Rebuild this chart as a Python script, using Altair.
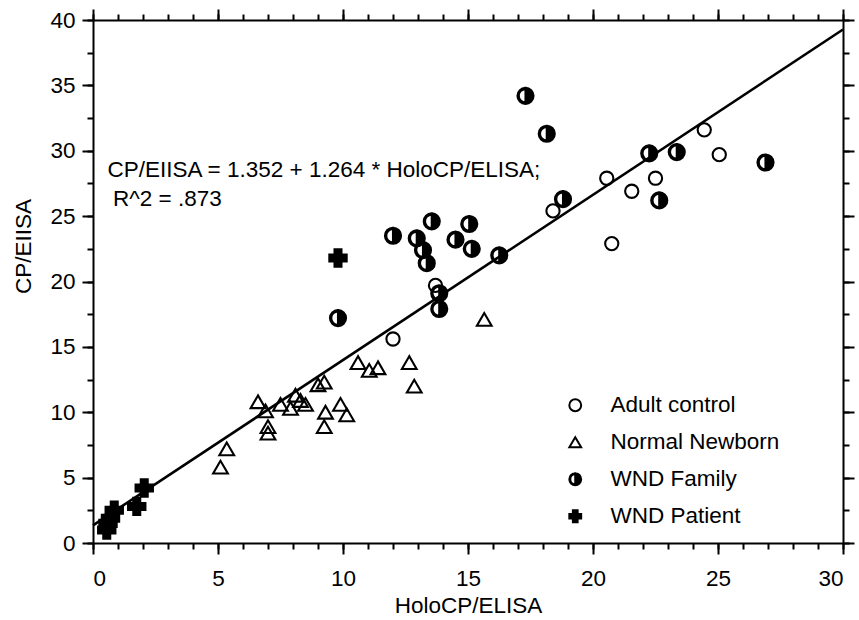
import altair as alt
import pandas as pd

FONT = "Liberation Sans"
FS = 22.5

groups = ["Adult control", "Normal Newborn", "WND Family", "WND Patient"]
size_keys = ["s1", "s2", "s3", "s4"]

adult_x = [12.0, 13.7, 18.4, 20.55, 21.55, 20.75, 22.5, 24.45, 25.05]
adult_y = [15.6, 19.7, 25.4, 27.9, 26.9, 22.9, 27.9, 31.6, 29.7]

newborn_x = [5.1, 5.35, 6.6, 6.9, 7.0, 7.0, 7.5, 7.9, 8.1, 8.3, 8.5, 9.0, 9.25,
             9.3, 9.25, 9.9, 10.15, 10.6, 11.05, 11.4, 12.65, 12.85, 15.65]
newborn_y = [5.8, 7.2, 10.8, 10.1, 8.9, 8.4, 10.6, 10.3, 11.3, 10.9, 10.6, 12.1, 12.3,
             10.0, 8.9, 10.6, 9.8, 13.8, 13.2, 13.4, 13.8, 12.0, 17.1]

family_x = [9.8, 12.0, 12.95, 13.2, 13.35, 13.55, 14.5, 15.05, 15.15, 16.25,
            13.85, 13.85, 17.3, 18.15, 18.8, 22.25, 22.65, 23.35, 26.9]
family_y = [17.2, 23.5, 23.3, 22.4, 21.4, 24.6, 23.2, 24.4, 22.5, 22.0,
            19.1, 17.9, 34.2, 31.3, 26.3, 29.8, 26.2, 29.9, 29.1]

patient_x = [0.55, 0.6, 0.7, 0.85, 1.75, 2.05, 9.8]
patient_y = [1.0, 1.5, 1.9, 2.5, 2.8, 4.2, 21.8]

fit_x = [0, 30]
fit_y = [1.352, 39.272]

ann_text = ["CP/EIISA = 1.352 + 1.264 * HoloCP/ELISA;", "R^2 = .873"]
ann_x = [0.58, 0.8]
ann_y = [28.5, 26.3]

x_major = [0, 5, 10, 15, 20, 25, 30]
x_minor = list(range(0, 31))
y_major = [0, 5, 10, 15, 20, 25, 30, 35, 40]
y_minor = [i * 2.5 for i in range(17)]

HALF = ("M0,-1A1,1,0,0,1,0,1Z"
        "M0,1A1,1,0,0,1,0,-1L0,-0.84A0.84,0.84,0,0,0,0,0.84Z")

rows = []
for i, (g, xs_, ys_) in enumerate([(groups[0], adult_x, adult_y), (groups[1], newborn_x, newborn_y),
                                   (groups[2], family_x, family_y), (groups[3], patient_x, patient_y)]):
    for a, b in zip(xs_, ys_):
        rows.append({"x": a, "y": b, "group": g, "sz": size_keys[i]})
pts = pd.DataFrame(rows)
fit_df = pd.DataFrame({"x": fit_x, "y": fit_y})
ann_df = pd.DataFrame({"x": ann_x, "y": ann_y, "t": ann_text})

xs = alt.Scale(domain=[0, 30], nice=False, zero=False)
ys = alt.Scale(domain=[0, 40], nice=False, zero=False)

common = dict(domainColor="black", tickColor="black", tickWidth=2, domainWidth=2,
              grid=False, labelFont=FONT, labelFontSize=FS, labelColor="black",
              titleFont=FONT, titleFontSize=FS, titleColor="black", titleFontWeight="normal")


def axis_layer(xaxis, yaxis):
    return alt.Chart(fit_df).mark_point(opacity=0).encode(
        x=alt.X("x:Q", scale=xs, axis=xaxis),
        y=alt.Y("y:Q", scale=ys, axis=yaxis),
    )


l1 = axis_layer(
    alt.Axis(orient="bottom", values=x_major, tickSize=11, labelPadding=13,
             title="HoloCP/ELISA", titleY=69, titleBaseline="alphabetic", **common),
    alt.Axis(orient="left", values=y_major, tickSize=11, labelPadding=7,
             title="CP/EIISA", titleX=-58, titleY=226, **common),
)
l2 = axis_layer(
    alt.Axis(orient="bottom", values=x_minor, tickSize=6, labels=False, domain=False,
             title=None, tickColor="black", tickWidth=2, grid=False),
    alt.Axis(orient="left", values=y_minor, tickSize=6, labels=False, domain=False,
             title=None, tickColor="black", tickWidth=2, grid=False),
)
l3 = axis_layer(
    alt.Axis(orient="top", values=x_major, tickSize=11, labels=False, title=None,
             domainColor="black", domainWidth=2, tickColor="black", tickWidth=2, grid=False),
    alt.Axis(orient="right", values=y_major, tickSize=11, labels=False, title=None,
             domainColor="black", domainWidth=2, tickColor="black", tickWidth=2, grid=False),
)
l4 = axis_layer(
    alt.Axis(orient="top", values=x_minor, tickSize=6, labels=False, domain=False,
             title=None, tickColor="black", tickWidth=2, grid=False),
    alt.Axis(orient="right", values=y_minor, tickSize=6, labels=False, domain=False,
             title=None, tickColor="black", tickWidth=2, grid=False),
)

line = alt.Chart(fit_df).mark_line(color="black", strokeWidth=2.6).encode(
    x=alt.X("x:Q", scale=xs, axis=None),
    y=alt.Y("y:Q", scale=ys, axis=None),
)

legend = alt.Legend(title=None, orient="none", legendX=471, legendY=374, padding=0,
                    labelFont=FONT, labelFontSize=FS, labelColor="black", labelLimit=400,
                    symbolSize=140, symbolStrokeWidth=2, symbolStrokeColor="black",
                    labelOffset=24, rowPadding=14)

points = alt.Chart(pts).mark_point(filled=True, strokeWidth=2.1, opacity=1).encode(
    x=alt.X("x:Q", scale=xs, axis=None),
    y=alt.Y("y:Q", scale=ys, axis=None),
    shape=alt.Shape("group:N", scale=alt.Scale(domain=groups,
                    range=["circle", "triangle-up", HALF, "cross"]), legend=legend),
    fill=alt.Fill("group:N", scale=alt.Scale(domain=groups,
                  range=["transparent", "transparent", "black", "black"]), legend=legend),
    stroke=alt.Stroke("group:N", scale=alt.Scale(domain=groups,
                      range=["black", "black", "black", "black"]), legend=legend),
    size=alt.Size("sz:N", scale=alt.Scale(domain=size_keys, range=[175, 300, 210, 190]),
                  legend=None),
)

text = alt.Chart(ann_df).mark_text(align="left", baseline="middle", font=FONT,
                                   fontSize=FS, color="black").encode(
    x=alt.X("x:Q", scale=xs, axis=None),
    y=alt.Y("y:Q", scale=ys, axis=None),
    text="t:N",
)

chart = alt.layer(l1, l2, l3, l4, line, points, text).resolve_axis(
    x="independent", y="independent"
).properties(
    width=750, height=523,
    padding={"left": 93, "top": 20, "right": 16, "bottom": 77},
    autosize=alt.AutoSizeParams(type="none"),
    background="white",
).configure_view(stroke=None)

chart.save("out.html", embed_options={"renderer": "svg", "actions": False})
